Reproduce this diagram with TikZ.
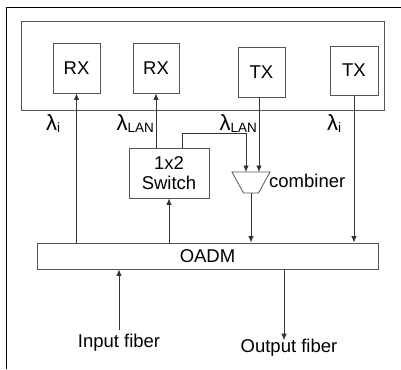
\documentclass[tikz,border=0pt]{standalone}
\usepackage{fontspec}
\setmainfont{Liberation Sans}
\usetikzlibrary{arrows.meta,calc,positioning,shapes.geometric}
\definecolor{edge}{HTML}{555555}
\definecolor{wire}{HTML}{333333}
\newcommand{\lamsub}[1]{{\fontsize{22}{22}\selectfont λ}\raisebox{-0.3ex}{\fontsize{13.5}{13.5}\selectfont #1}}

\begin{document}
\begin{tikzpicture}[x=1pt,y=-1pt,>={Latex[length=6.5pt,width=5.5pt]},
  box/.style={draw=edge,line width=0.8pt,inner sep=0pt,font=\fontsize{18.5}{20.5}\selectfont},
  lbl/.style={inner sep=0pt,font=\fontsize{18.5}{20.5}\selectfont},
  wired/.style={->,draw=wire,line width=0.8pt}]
\useasboundingbox (0,0) rectangle (401,369);
\draw[line width=0.9pt] (401,7) -- (6.5,7) -- (6.5,369);
\node[box,minimum width=363pt,minimum height=89pt] (host) at (202.5,65.5) {};
\node[box,minimum width=47pt,minimum height=50pt] (rxa) at (76.5,68) {RX};
\node[box,minimum width=46pt,minimum height=50pt] (rxb) at (156,68) {RX};
\node[box,minimum width=47pt,minimum height=50pt] (txa) at (261.5,72) {TX};
\node[box,minimum width=48pt,minimum height=49pt] (txb) at (354,70.5) {TX};
\node[box,minimum width=80pt,minimum height=50pt,align=center] (switch) at (169,173) {1x2\\[-1pt]Switch};
% combiner
\coordinate (combtop) at (251,172);
\coordinate (combbot) at (251,193);
\draw[draw=edge,line width=0.8pt] (232,172) -- (270,172) -- (258.5,193) -- (243.5,193) -- cycle;
\node[lbl,anchor=west] (combtxt) at (269,181) {combiner};
\node[box,minimum width=341pt,minimum height=26pt] (oadm) at (207.5,256) {OADM};
\node[lbl] (infib) at (119,343) {Input fiber};
\node[lbl] (outfib) at (289,348) {Output fiber};
\node[lbl,anchor=base west] (lamia) at (46,130) {\lamsub{i}};
\node[lbl,anchor=base east] (lanrx) at (154,130) {\lamsub{LAN}};
\node[lbl,anchor=base east] (lantx) at (257,130) {\lamsub{LAN}};
\node[lbl,anchor=base west] (lamib) at (327,130) {\lamsub{i}};
\draw[wired] (oadm.north -| rxa) -- (rxa.south);
\draw[wired] (switch.north -| rxb) -- (rxb.south);
\draw[wired] ([xshift=13pt]switch.north) -- ++(0,-14) -| ([xshift=-5pt]combtop);
\draw[wired] ([xshift=-2.5pt]txa.south) -- ([xshift=-2.5pt]txa.south |- combtop);
\draw[wired] (combbot) -- (combbot |- oadm.north);
\draw[wired] (txb.south) -- (txb.south |- oadm.north);
\draw[wired] (oadm.north -| switch) -- (switch.south);
\draw[wired] ([yshift=4pt]infib.north) -- (infib.north |- oadm.south);
\draw[wired] ([xshift=-5pt]outfib.north |- oadm.south) -- ([xshift=-5pt,yshift=-1pt]outfib.north);
\end{tikzpicture}
\end{document}
